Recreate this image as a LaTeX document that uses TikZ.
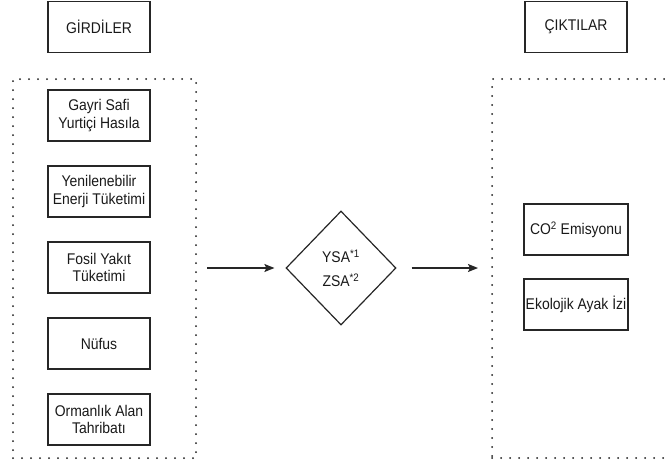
\documentclass[tikz,border=0pt]{standalone}
\usepackage{fontspec}
\setmainfont[FakeStretch=0.9]{Liberation Sans}
\usetikzlibrary{shapes.geometric,arrows.meta}
\begin{document}
\begin{tikzpicture}[x=1pt,y=-1pt,
  every node/.style={font=\fontsize{15.5}{17.5}\selectfont, text=black!90},
  box/.style={draw=black!85, line width=1.2pt, minimum width=102pt, minimum height=51pt, inner sep=0pt, align=center},
  dotbox/.style={draw=black!90, line width=2pt, line cap=round, dash pattern=on 0pt off 9pt, inner sep=0pt},
  arr/.style={draw=black!85, line width=1.3pt, -{Stealth[length=10pt,width=8pt,inset=2pt]}}]
\useasboundingbox (0,0) rectangle (665,463);
\clip (0,0) rectangle (665,463);
\node[box] (gir) at (99,27) {GİRDİLER};
\node[box] (cik) at (576,27) {ÇIKTILAR};
\node[dotbox, minimum width=183pt, minimum height=379pt] (inbox) at (104.5,268.5) {};
\node[dotbox, minimum width=198pt, minimum height=379pt] (outbox) at (591,268.5) {};
\node[box] (g1) at (99,115.5) {Gayri Safi\\Yurtiçi Hasıla};
\node[box] (g2) at (99,191.5) {Yenilenebilir\\Enerji Tüketimi};
\node[box] (g3) at (99,267.5) {Fosil Yakıt\\Tüketimi};
\node[box] (g4) at (99,343.5) {Nüfus};
\node[box] (g5) at (99,419.5) {Ormanlık Alan\\Tahribatı};
\node[draw=black!85, line width=1.2pt, shape=diamond, minimum width=110pt, minimum height=114pt, inner sep=0pt, align=center, font=\fontsize{15.5}{24}\selectfont] (dia) at (341,268) {YSA\textsuperscript{*1}\\ZSA\textsuperscript{*2}};
\node[box, minimum width=104pt] (c1) at (576,229.5) {CO\textsuperscript{2} Emisyonu};
\node[box, minimum width=104pt] (c2) at (576,304.5) {Ekolojik Ayak İzi};
\draw[arr, shorten <=10pt, shorten >=11pt] (inbox.east |- dia.west) -- (dia.west);
\draw[arr, shorten <=15pt, shorten >=13pt] (dia.east) -- (outbox.west |- dia.east);
\end{tikzpicture}
\end{document}
